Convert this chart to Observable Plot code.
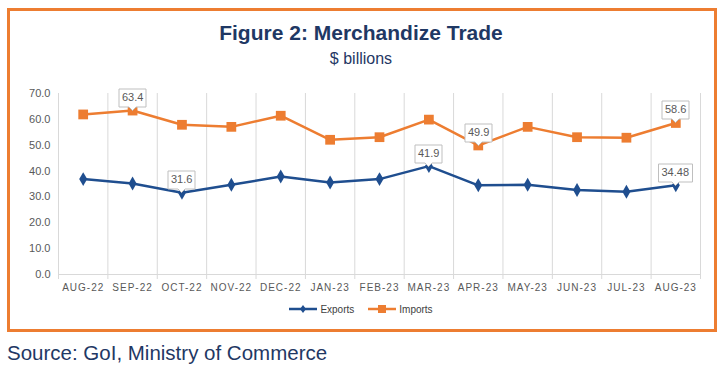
<!DOCTYPE html>
<html><head><meta charset="utf-8">
<script src="https://cdn.jsdelivr.net/npm/d3@7"></script>
<script src="https://cdn.jsdelivr.net/npm/@observablehq/plot@0.6"></script>
<style>
body{margin:0;background:#fff;width:722px;height:375px;position:relative;overflow:hidden;font-family:"Liberation Sans",Arial,sans-serif;}
#box{position:absolute;left:7px;top:8px;width:710px;height:324px;box-sizing:border-box;border:3px solid #ED7D31;}
#title{position:absolute;left:0;width:722px;top:21px;text-align:center;font-weight:bold;font-size:21px;color:#1f3864;}
#sub{position:absolute;left:0;width:722px;top:50px;text-align:center;font-size:16px;color:#1f3864;}
#chart{position:absolute;left:0;top:80px;}
#legend{position:absolute;left:0;width:722px;top:302px;text-align:center;font-size:10px;color:#404040;}
#legend span.item{display:inline-flex;align-items:center;margin:0 7px;}
#legend svg{margin-right:3px;}
#source{position:absolute;left:7px;top:341px;font-size:20.5px;color:#1f3864;}
.xt g[aria-label="x-axis tick label"] text{letter-spacing:1px;}
</style></head>
<body>
<div id="box"></div>
<div id="title">Figure 2: Merchandize Trade</div>
<div id="sub">$ billions</div>
<div id="chart"></div>
<div id="legend"></div>
<div id="source">Source: GoI, Ministry of Commerce</div>
<script>
const months = ["AUG-22","SEP-22","OCT-22","NOV-22","DEC-22","JAN-23","FEB-23","MAR-23","APR-23","MAY-23","JUN-23","JUL-23","AUG-23"];
const exportsVals = [36.9,35.2,31.6,34.7,37.9,35.6,36.9,41.9,34.5,34.7,32.7,32.0,34.48];
const importsVals = [61.9,63.4,57.9,57.1,61.4,52.1,53.1,59.9,49.9,57.1,53.1,52.9,58.6];
const exportLabelIdx = [2,7,12];
const exportLabels = ["31.6","41.9","34.48"];
const importLabelIdx = [1,8,12];
const importLabels = ["63.4","49.9","58.6"];
const yTicks = [0,10,20,30,40,50,60,70];

const blue = "#1f4e8f", orange = "#ED7D31";
const exp = months.map((m,i)=>({i:i+0.5, v:exportsVals[i]}));
const imp = months.map((m,i)=>({i:i+0.5, v:importsVals[i]}));
const expL = exportLabelIdx.map((k,j)=>({i:k+0.5, v:exportsVals[k], label:exportLabels[j]}));
const impL = importLabelIdx.map((k,j)=>({i:k+0.5, v:importsVals[k], label:importLabels[j]}));

const tipOpts = {x:"i", y:"v", title:"label", anchor:"bottom", fill:"white", stroke:"#bfbfbf",
  pathFilter:"none", textPadding:3, pointerSize:7, fontSize:11, fontFamily:"Liberation Sans"};

const plot = Plot.plot({
  width:722, height:215, marginLeft:58, marginRight:22, marginTop:13, marginBottom:21,
  className:"xt",
  style:{fontFamily:"Liberation Sans", fontSize:"11px", color:"#595959", overflow:"visible", background:"transparent"},
  x:{domain:[0,13], axis:null, label:null},
  y:{domain:[0,70], axis:null, label:null},
  marks:[
    Plot.ruleX(d3.range(14), {x:d=>d, stroke:"#d9d9d9", strokeWidth:1, insetBottom:-5}),
    Plot.ruleY([0], {stroke:"#d9d9d9", strokeWidth:1}),
    Plot.axisY({ticks:yTicks, tickFormat:d=>d.toFixed(1), tickSize:0, tickPadding:8, fontSize:11, label:null}),
    Plot.axisX({ticks:months.map((m,i)=>i+0.5), tickFormat:d=>months[Math.round(d-0.5)], tickSize:0, tickPadding:9, fontSize:10, label:null}),
    Plot.line(imp, {x:"i", y:"v", stroke:orange, strokeWidth:2.5}),
    Plot.dot(imp, {x:"i", y:"v", symbol:"square", fill:orange, r:5.5}),
    Plot.line(exp, {x:"i", y:"v", stroke:blue, strokeWidth:2.5}),
    Plot.dot(exp, {x:"i", y:"v", symbol:"diamond", fill:blue, r:4.2}),
    Plot.tip(impL, tipOpts),
    Plot.tip(expL, tipOpts)
  ]
});
document.getElementById("chart").append(plot);

const legend = document.getElementById("legend");
[["Exports",blue,"diamond"],["Imports",orange,"square"]].forEach(([name,col,sym])=>{
  const s = document.createElement("span"); s.className="item";
  const mk = sym==="square" ? `<rect x="10" y="3" width="8" height="8" fill="${col}"/>`
    : `<path d="M14 3 L17 7 L14 11 L11 7 Z" fill="${col}"/>`;
  s.innerHTML = `<svg width="28" height="14"><line x1="0" x2="28" y1="7" y2="7" stroke="${col}" stroke-width="2.5"/>${mk}</svg>${name}`;
  legend.append(s);
});
</script>
</body></html>
